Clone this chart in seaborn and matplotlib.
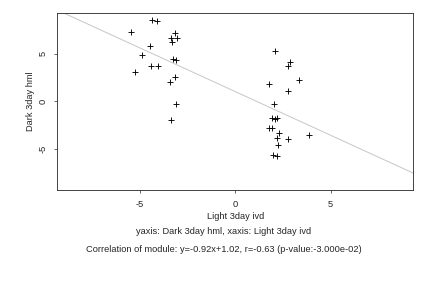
import matplotlib
matplotlib.use("Agg")
import matplotlib.pyplot as plt
import seaborn as sns
import pandas as pd

light_3day_ivd = [-4.37, -4.11, -5.47, -3.16, -3.37, -3.06, -3.32, -4.47, -4.89,
                  -3.27, -3.11, -4.42, -4.05, -5.26, -3.16, -3.42, -3.11, -3.37,
                  2.08, 2.87, 2.76, 3.34, 1.77, 2.76, 2.03, 1.92, 2.08, 2.19,
                  1.77, 1.92, 2.29, 2.19, 2.76, 3.86, 2.24, 1.98, 2.19]
dark_3day_hml = [8.56, 8.45, 7.29, 7.19, 6.66, 6.66, 6.24, 5.82, 4.87,
                 4.45, 4.35, 3.72, 3.72, 3.08, 2.56, 2.03, -0.29, -1.97,
                 5.29, 4.14, 3.72, 2.24, 1.82, 1.08, -0.29, -1.76, -1.86, -1.76,
                 -2.86, -2.81, -3.34, -3.86, -3.97, -3.55, -4.60, -5.65, -5.76]
slope = -0.92
intercept = 1.02
ticks = [-5, 0, 5]
x_label = "Light 3day ivd"
y_label = "Dark 3day hml"
line1 = "yaxis: Dark 3day hml, xaxis: Light 3day ivd"
line2 = "Correlation of module: y=-0.92x+1.02, r=-0.63 (p-value:-3.000e-02)"

df = pd.DataFrame({"x": light_3day_ivd, "y": dark_3day_hml})

sns.set_style("white")
plt.rcParams["font.family"] = ["Liberation Sans", "DejaVu Sans"]

fs = 9.3
fig = plt.figure(figsize=(6, 4), dpi=72)
ax = fig.add_axes([57.3 / 432, 1 - 190 / 288, (413.3 - 57.3) / 432, (190 - 12.7) / 288])

ax.axline((0, intercept), slope=slope, color="#c8c8c8", linewidth=1, zorder=1)
sns.scatterplot(data=df, x="x", y="y", marker="+", color="black", s=30,
                linewidth=0.9, ax=ax, zorder=2)

ax.set_xlim(-9.33, 9.33)
ax.set_ylim(-9.34, 9.33)
ax.set_xticks(ticks)
ax.set_yticks(ticks)
ax.set_xticklabels([str(t) for t in ticks], fontsize=fs)
ax.set_yticklabels([str(t) for t in ticks], fontsize=fs, rotation=90, va="center")
ax.tick_params(direction="out", length=3, width=0.8, color="#444444", pad=7,
               bottom=True, left=True)
ax.set_xlabel(x_label, fontsize=fs, labelpad=3)
ax.set_ylabel(y_label, fontsize=fs, labelpad=3)
for side in ax.spines:
    ax.spines[side].set_color("#333333")
    ax.spines[side].set_linewidth(0.9)

fig.text(224 / 432, 1 - 232 / 288, line1, ha="center", va="center", fontsize=fs)
fig.text(224 / 432, 1 - 250 / 288, line2, ha="center", va="center", fontsize=fs)

fig.savefig("out.png", dpi=72)
